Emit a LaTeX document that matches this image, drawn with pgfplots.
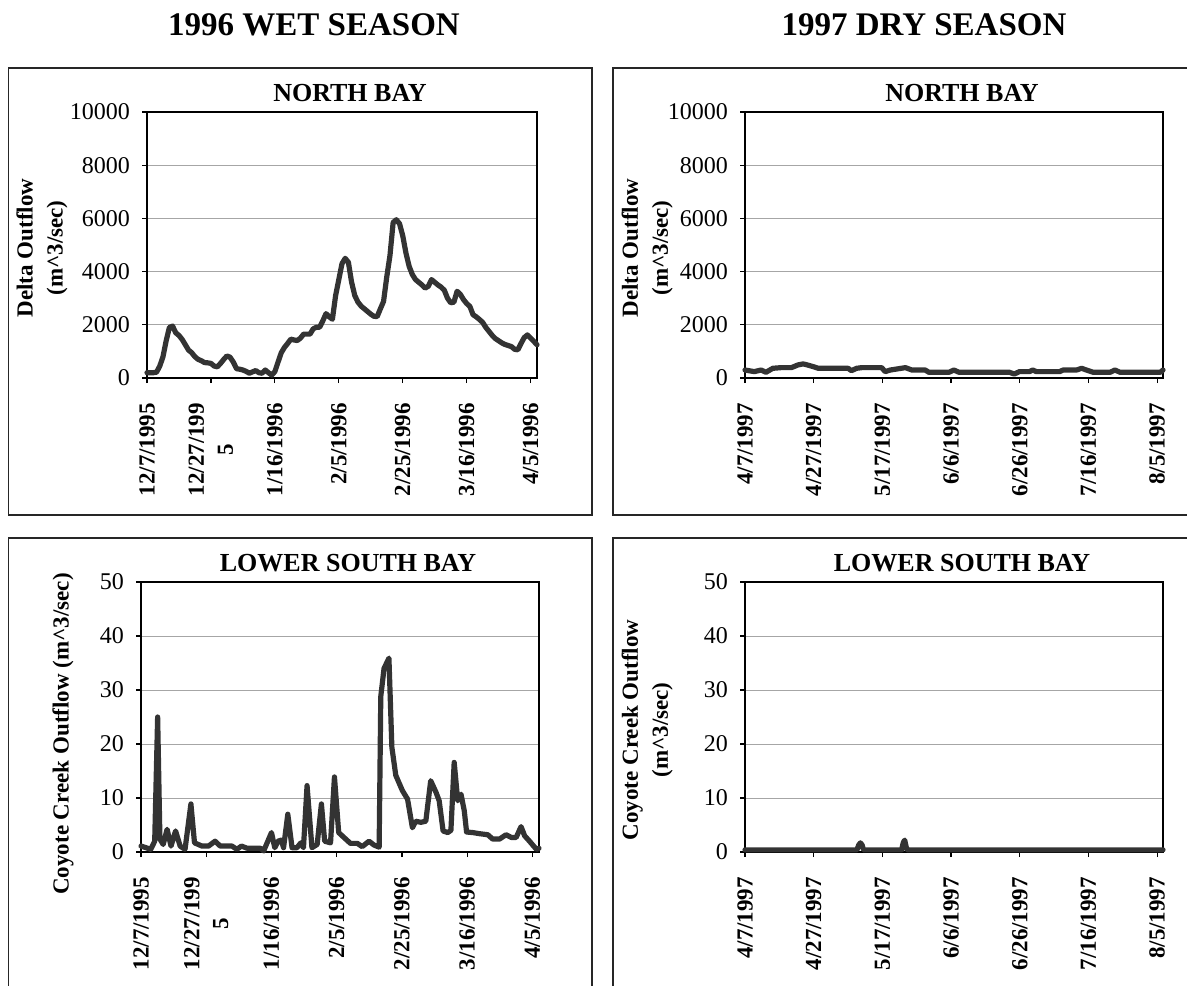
\documentclass[border=0pt]{standalone}
\usepackage{fontspec}
\setmainfont{Liberation Serif}
\usepackage{pgfplots}
\pgfplotsset{compat=1.18}
\definecolor{lncol}{HTML}{333333}
\definecolor{gr}{HTML}{A6A6A6}
\pgfplotsset{
  panel/.style={
    scale only axis,
    anchor=south west,
    ymin=0,
    axis line style={black, line width=0.9pt},
    xtick={0,20,...,120},
    tick align=outside,
    tick pos=left,
    major tick length=2.5pt,
    tick style={black, line width=0.6pt},
    ymajorgrids,
    grid style={gr, line width=0.5pt},
    clip=false,
    scaled y ticks=false,
    /pgf/number format/assume math mode=true,
    /pgf/number format/1000 sep={},
    yticklabel style={font=\fontsize{12}{13}\selectfont, xshift=-2.5pt},
    xticklabel shift=6.5pt,
    xticklabel style={font=\bfseries\fontsize{11.5}{14.5}\selectfont, rotate=90, anchor=east, align=center},
    title style={yshift=-0.5pt, font=\bfseries\fontsize{13}{15}\selectfont, anchor=base, xshift=4pt},
    ylabel style={font=\bfseries\fontsize{11.5}{15}\selectfont, align=center, anchor=center},
  },
  dataline/.style={lncol, line width=2.6pt, line join=round, line cap=round, mark=none},
}
\begin{document}
\begin{tikzpicture}
\useasboundingbox (0,0) rectangle (593.5pt,-492.5pt);
\draw[line width=0.75pt, black!85] (4.25pt,-34pt) rectangle (296pt,-257.5pt);
\draw[line width=0.75pt, black!85] (306.5pt,-34pt) rectangle (598pt,-257.5pt);
\draw[line width=0.75pt, black!85] (4.25pt,-269pt) rectangle (296pt,-500pt);
\draw[line width=0.75pt, black!85] (306.5pt,-269pt) rectangle (598pt,-500pt);
\node[anchor=base, font=\bfseries\fontsize{16.5}{18}\selectfont] at (157pt,-17.5pt) {1996 WET SEASON};
\node[anchor=base, font=\bfseries\fontsize{16.5}{18}\selectfont] at (462pt,-17.5pt) {1997 DRY SEASON};

% Top left
\begin{axis}[panel, at={(73.5pt,-189pt)}, width=195pt, height=133pt,
  xmin=0, xmax=122, ymax=10000, ytick={0,2000,...,10000},
  xticklabels={12/7/1995,{12/27/199\\5},1/16/1996,2/5/1996,2/25/1996,3/16/1996,4/5/1996},
  title={NORTH BAY},
  ylabel={Delta Outflow\\(m\textasciicircum 3/sec)},
  ylabel style={at={(axis description cs:-0.269,0.489)}}]
\addplot[dataline] coordinates {(0,200) (1,200) (2,200) (3,220) (4,450) (5,800) (6,1400) (7,1900) (8,1950) (9,1700) (10,1600) (11,1450) (12,1250) (13,1050) (14,950) (15,800) (16,700) (17,650) (18,580) (19,570) (20,550) (21,450) (22,420) (23,550) (24,700) (25,830) (26,780) (27,600) (28,350) (29,330) (30,300) (31,250) (32,180) (33,230) (34,280) (35,200) (36,180) (37,300) (38,200) (39,110) (40,240) (41,600) (42,950) (43,1150) (44,1300) (45,1460) (46,1430) (47,1410) (48,1500) (49,1650) (50,1650) (51,1650) (52,1850) (53,1910) (54,1910) (55,2150) (56,2420) (57,2300) (58,2210) (59,3100) (60,3700) (61,4300) (62,4500) (63,4350) (64,3600) (65,3100) (66,2850) (67,2700) (68,2600) (69,2500) (70,2400) (71,2320) (72,2310) (73,2600) (74,2880) (75,3800) (76,4600) (77,5850) (78,5950) (79,5800) (80,5350) (81,4700) (82,4200) (83,3890) (84,3700) (85,3600) (86,3500) (87,3380) (88,3450) (89,3700) (90,3600) (91,3500) (92,3420) (93,3300) (94,3000) (95,2830) (96,2850) (97,3260) (98,3150) (99,2950) (100,2800) (101,2690) (102,2380) (103,2300) (104,2200) (105,2090) (106,1900) (107,1750) (108,1600) (109,1480) (110,1400) (111,1320) (112,1260) (113,1220) (114,1180) (115,1080) (116,1060) (117,1300) (118,1520) (119,1620) (120,1500) (121,1380) (122,1250)};
\end{axis}

% Top right
\begin{axis}[panel, at={(372.5pt,-189pt)}, width=209pt, height=133pt,
  xmin=0, xmax=121.7, ymax=10000, ytick={0,2000,...,10000},
  xticklabels={4/7/1997,4/27/1997,5/17/1997,6/6/1997,6/26/1997,7/16/1997,8/5/1997},
  title={NORTH BAY},
  ylabel={Delta Outflow\\(m\textasciicircum 3/sec)},
  ylabel style={at={(axis description cs:-0.234,0.489)}}]
\addplot[dataline] coordinates {(0,300) (2.7,240) (4.7,300) (6.1,215) (8.1,365) (10.5,390) (13.5,390) (15.4,490) (16.9,530) (17.9,500) (19.8,430) (21.3,365) (30,365) (31,277) (32.5,365) (34,390) (39.8,390) (40.8,240) (42.3,300) (46.7,390) (48.6,300) (52.5,300) (53.5,215) (59.4,215) (60.8,300) (62.3,215) (77,215) (78.4,150) (79.9,240) (82.8,240) (83.8,300) (84.8,240) (91.6,240) (92.6,300) (96.5,300) (98,365) (99.4,300) (101.4,215) (106.3,215) (107.7,300) (109.2,215) (120.9,215) (121.7,300)};
\end{axis}

% Bottom left
\begin{axis}[panel, at={(70.5pt,-426pt)}, width=199pt, height=135pt,
  xmin=0, xmax=122, ymax=50, ytick={0,10,...,50},
  xticklabels={12/7/1995,{12/27/199\\5},1/16/1996,2/5/1996,2/25/1996,3/16/1996,4/5/1996},
  title={LOWER SOUTH BAY},
  ylabel={Coyote Creek Outflow (m\textasciicircum 3/sec)},
  ylabel style={at={(axis description cs:-0.196,0.437)}}]
\addplot[dataline] coordinates {(0,1.1) (1.5,0.8) (3,0.5) (4.2,2) (5.1,25) (5.8,2.4) (6.8,1.4) (8,4.2) (9.2,1.1) (10.6,3.9) (12,1.1) (13.5,0.5) (15.3,8.9) (16.4,1.7) (18.7,1.1) (20.7,1.1) (22.7,2.0) (24.3,1.1) (27.9,1.1) (29.4,0.5) (30.8,1.1) (32.5,0.7) (36.6,0.7) (37.6,0.2) (40,3.6) (41,0.8) (42,2.0) (43,2.2) (43.7,0.8) (45,7.0) (46.3,0.8) (47.8,0.8) (49,1.7) (49.8,0.8) (50.9,12.3) (52.4,0.8) (54,1.4) (55.3,8.9) (56.3,2.0) (58.1,1.7) (59.3,13.9) (60.6,3.6) (62.2,2.7) (64.2,1.6) (66.3,1.6) (67.8,1.0) (69.9,2.0) (71.4,1.3) (73,0.9) (73.5,28.8) (74.5,34) (76,35.9) (76.9,19.4) (78.1,14.2) (80.1,11.4) (81.7,9.8) (83.2,4.5) (84.2,5.7) (85.8,5.5) (87.3,5.7) (88.8,13.2) (90.4,11.1) (91.4,9.5) (92.6,3.9) (94,3.6) (95,4.0) (96,16.6) (97.1,9.5) (98.1,10.7) (99.1,7.6) (99.8,3.7) (101.7,3.6) (103.7,3.4) (106.3,3.2) (107.8,2.4) (109.9,2.4) (111.9,3.2) (113.5,2.7) (115,2.7) (116.5,4.7) (117.6,3.0) (119.1,2.0) (121.2,0.5) (122,0.7)};
\end{axis}

% Bottom right
\begin{axis}[panel, at={(372.5pt,-426pt)}, width=209pt, height=135pt,
  xmin=0, xmax=121.7, ymax=50, ytick={0,10,...,50},
  xticklabels={4/7/1997,4/27/1997,5/17/1997,6/6/1997,6/26/1997,7/16/1997,8/5/1997},
  title={LOWER SOUTH BAY},
  ylabel={Coyote Creek Outflow\\(m\textasciicircum 3/sec)},
  ylabel style={at={(axis description cs:-0.234,0.452)}}]
\addplot[dataline] coordinates {(0,0.4) (32.6,0.4) (33.1,1.3) (33.6,1.7) (34.1,1.3) (34.5,0.4) (45.6,0.4) (46.1,1.8) (46.5,2.2) (46.9,1.0) (47.2,0.4) (121.7,0.4)};
\end{axis}
\end{tikzpicture}
\end{document}
